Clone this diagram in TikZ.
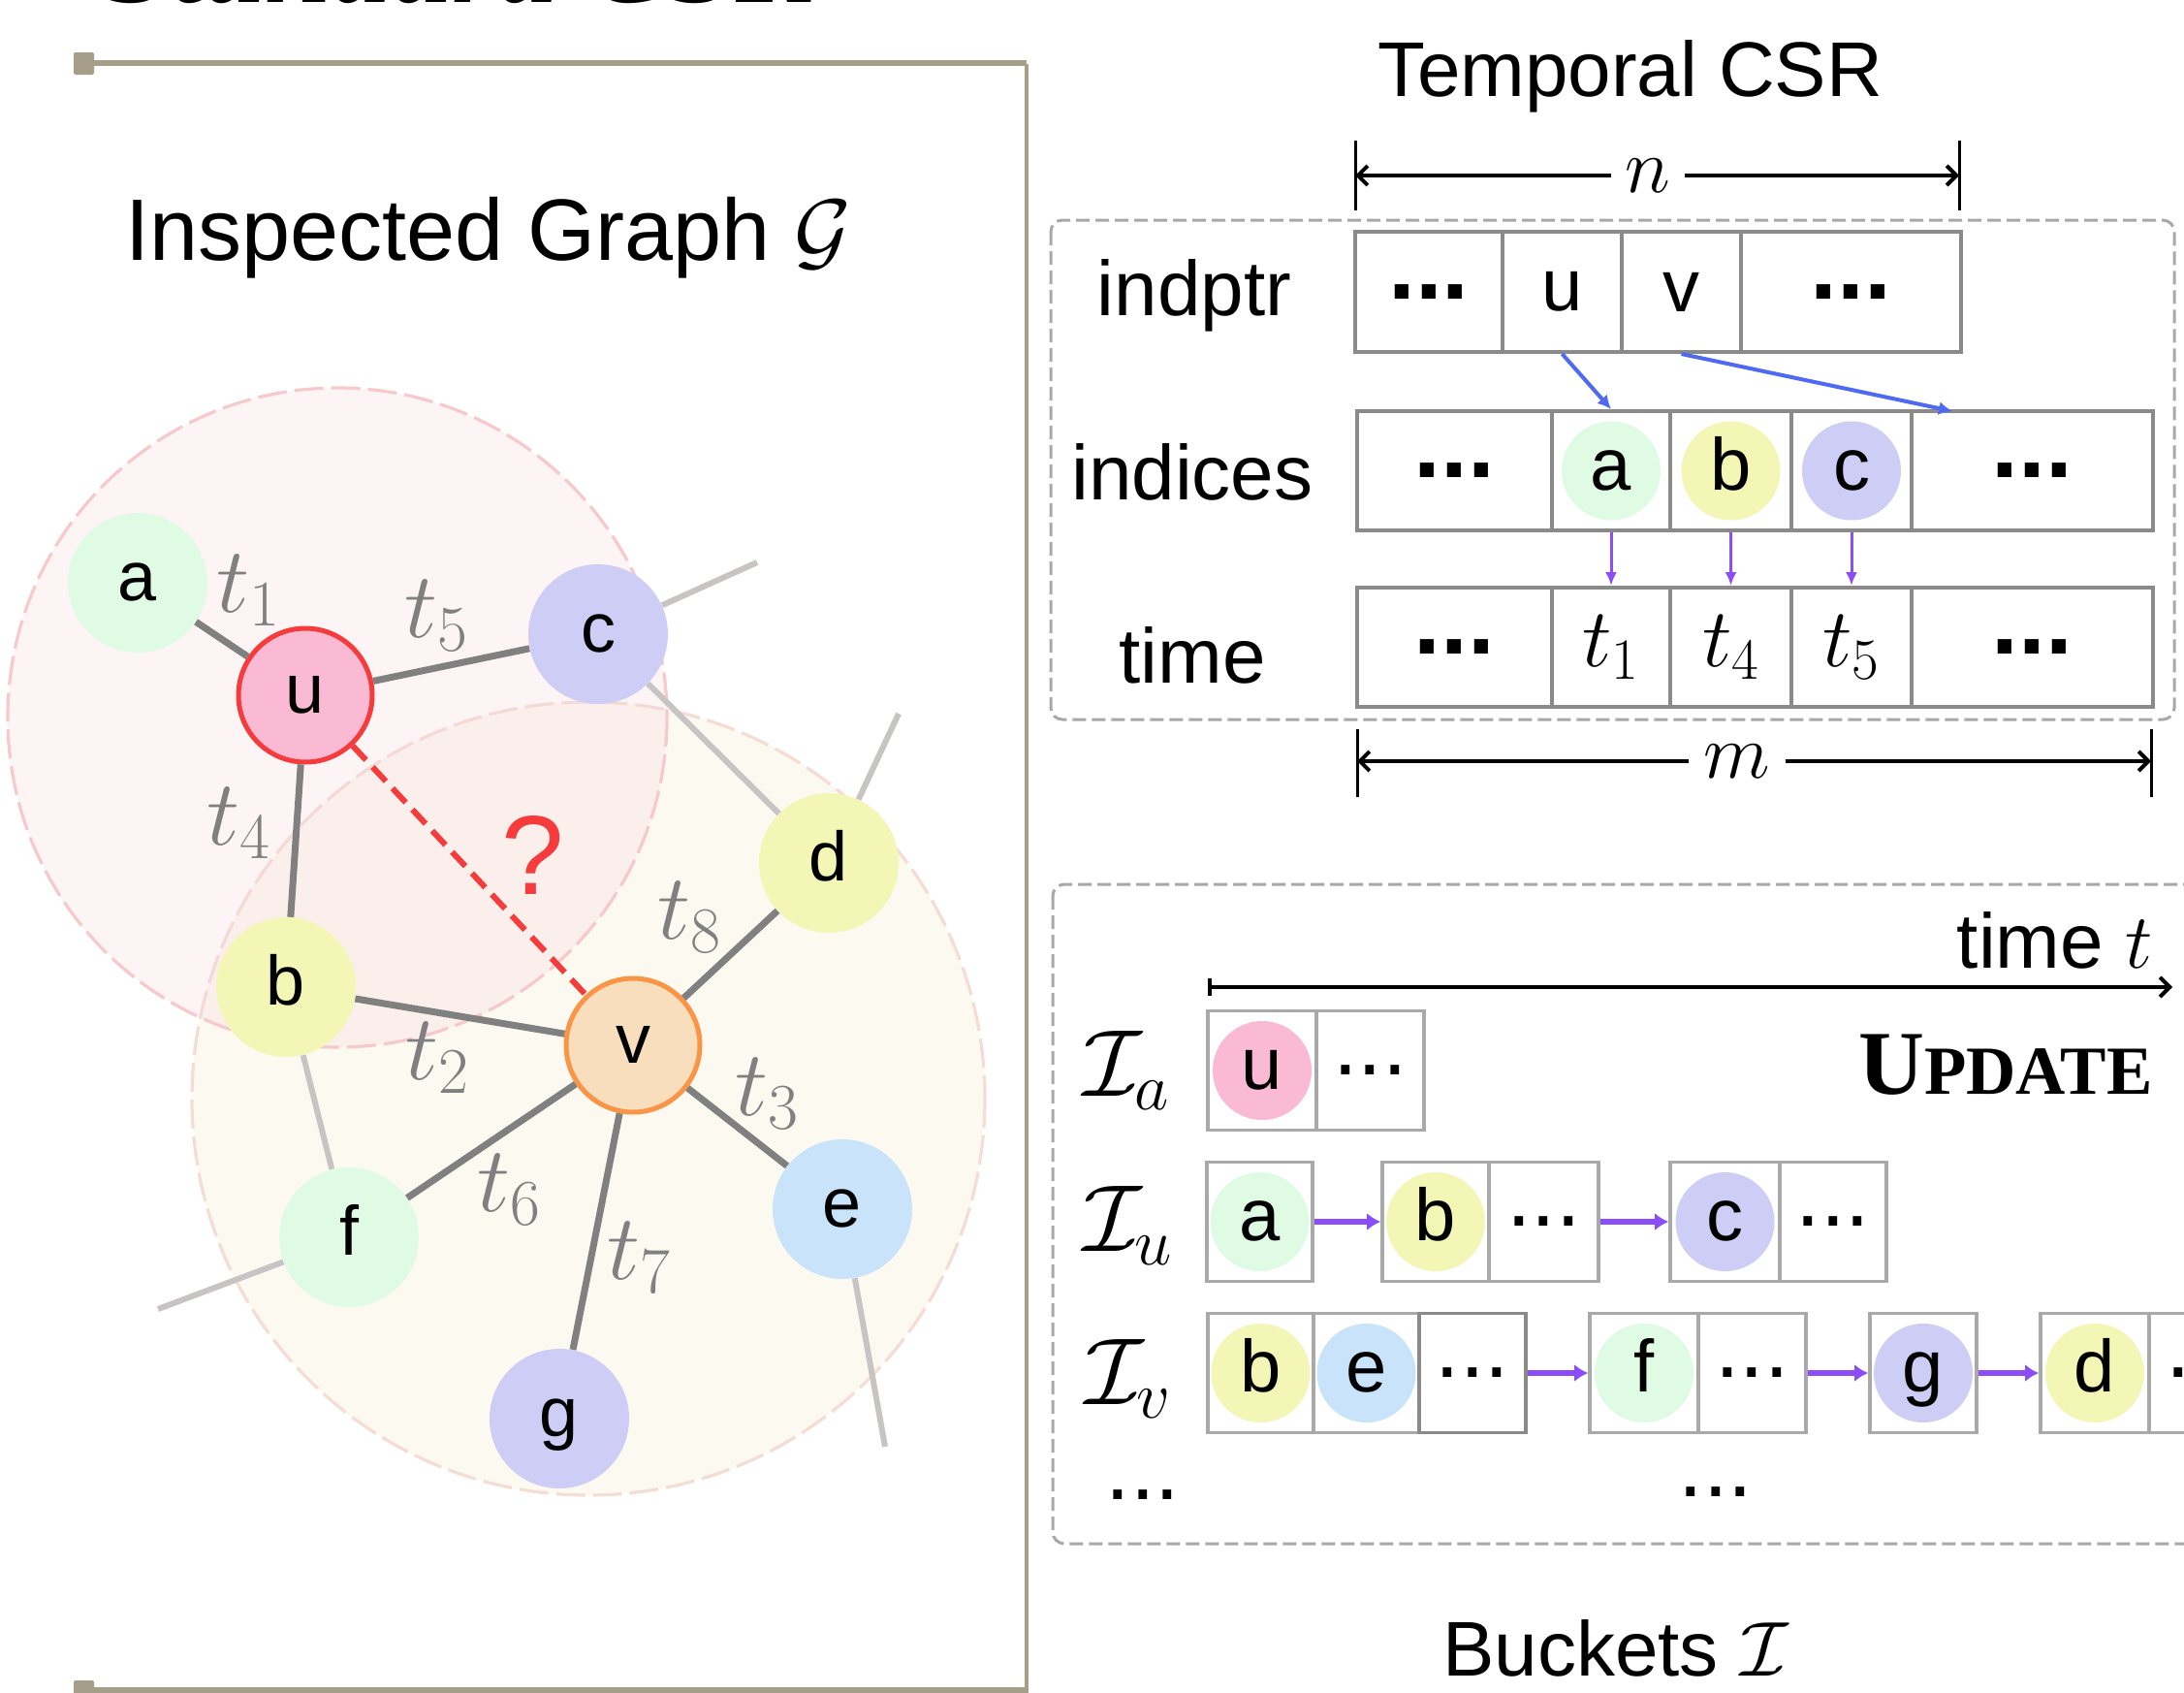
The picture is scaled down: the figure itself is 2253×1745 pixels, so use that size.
\RequirePackage{fix-cm}
\documentclass[tikz,border=0pt]{standalone}
\usepackage[no-math]{fontspec}
\newfontfamily\hv{Liberation Sans}
\newfontfamily\tms{Liberation Serif}
\usetikzlibrary{arrows.meta,calc}
\definecolor{cgreen}{HTML}{DFFBE3}
\definecolor{cpink}{HTML}{FBBAD3}
\definecolor{clav}{HTML}{CDCDF5}
\definecolor{cyel}{HTML}{F3F6B4}
\definecolor{cpeach}{HTML}{F8DEBD}
\definecolor{cblue}{HTML}{C9E3FB}
\definecolor{cred}{HTML}{F53B3B}
\definecolor{corange}{HTML}{FA9447}
\definecolor{egray}{HTML}{808080}
\definecolor{lgray}{HTML}{C9C4C4}
\definecolor{framec}{HTML}{A59E89}
\definecolor{boxg}{HTML}{8A8A8A}
\definecolor{bucg}{HTML}{A9A9A9}
\definecolor{dashg}{HTML}{A8A8A8}
\definecolor{arblue}{HTML}{4E6AF2}
\definecolor{arpurp}{HTML}{8B4DF7}
\definecolor{pinkbig}{HTML}{F8CDDA}
\definecolor{pinkbd}{HTML}{F7C9CC}
\definecolor{beigebig}{HTML}{FCF9F1}
\definecolor{beigebd}{HTML}{F3DDD5}
\tikzset{
  gnode/.style={circle, minimum size=72pt, inner sep=0pt, text height=18.7pt, text depth=0pt, font=\hv\fontsize{36}{36}\selectfont},
  snode/.style={circle, minimum size=51pt, inner sep=0pt, text height=19.5pt, text depth=0pt, font=\hv\fontsize{38}{38}\selectfont},
  gedge/.style={draw=egray, line width=3.5pt},
  ledge/.style={draw=lgray, line width=3pt},
  elab/.style={text=egray, inner sep=0pt, font=\fontsize{48}{48}\selectfont},
  csrcell/.style={draw=boxg, line width=2pt, minimum height=62pt, inner sep=0pt, font=\hv\fontsize{38}{38}\selectfont},
  tcell/.style={csrcell, minimum height=61.5pt, font=\fontsize{43}{43}\selectfont},
  bcell/.style={draw=bucg, line width=1.8pt, minimum height=61.5pt, inner sep=0pt},
  bdots/.style={font=\hv\bfseries\fontsize{50}{50}\selectfont},
  sdots/.style={font=\hv\fontsize{46}{46}\selectfont, inner sep=0pt},
  rowlab/.style={anchor=base, font=\hv\fontsize{40}{40}\selectfont},
  dimline/.style={line width=2pt, -{Straight Barb[length=5pt,width=10pt]}},
  tick/.style={line width=1.5pt},
  barrow/.style={draw=arblue, line width=2pt, -{Latex[length=7pt,width=7pt]}},
  parrow/.style={draw=arpurp, line width=1.5pt, -{Latex[length=7pt,width=6pt]}},
  pbar/.style={draw=arpurp, line width=3pt, -{Latex[length=7pt,width=9pt]}},
  dashbox/.style={draw=dashg, line width=1.5pt, dash pattern=on 7pt off 3pt, rounded corners=6pt},
  blab/.style={anchor=base west, font=\fontsize{49}{49}\selectfont}
}
\begin{document}
\begin{tikzpicture}[x=0.5pt,y=-0.5pt]
\useasboundingbox (0,0) rectangle (2253,1745);
\fill[white] (0,0) rectangle (2253,1745);

% ---------- cut-off heading and frame ----------
\node[anchor=base west, inner sep=0pt, font=\tms\bfseries\itshape\fontsize{62}{62}\selectfont] (toptitle) at (108,3) {Standard CSR};
\draw[framec, line width=3pt] (86,65) -- (1059,65);
\fill[framec, rounded corners=1pt] (76,54) rectangle (97,77);
\draw[framec, line width=2pt] (1059,66) -- (1059,1750);
\draw[framec, line width=3pt] (86,1743) -- (1059,1743);
\fill[framec, rounded corners=1pt] (76,1733) rectangle (97,1757);

% ---------- left: inspected graph ----------
\node[anchor=base west, inner sep=0pt, font=\hv\fontsize{45}{45}\selectfont] (gtitle) at (129,268) {Inspected Graph $\mathcal{G}$};

\fill[beigebig] (607,1133) circle[radius=409];
\draw[beigebd, line width=1.6pt, dash pattern=on 15pt off 4pt] (607,1133) circle[radius=409];
\fill[pinkbig, fill opacity=0.22] (348,740) circle[radius=340];
\draw[pinkbd, line width=1.6pt, dash pattern=on 15pt off 4pt] (348,740) circle[radius=340];

\node[gnode, fill=cgreen] (a) at (142,601) {a};
\node[gnode, fill=cpink, draw=cred, line width=2.5pt, minimum size=69pt] (u) at (315,717) {u};
\node[gnode, fill=clav] (c) at (617,654) {c};
\node[gnode, fill=cyel] (d) at (855,890) {d};
\node[gnode, fill=cyel] (b) at (295,1018) {b};
\node[gnode, fill=cpeach, draw=corange, line width=2.5pt, minimum size=69pt] (v) at (653,1078) {v};
\node[gnode, fill=cgreen] (f) at (360,1276) {f};
\node[gnode, fill=cblue] (e) at (869,1247) {e};
\node[gnode, fill=clav] (g) at (577,1463) {g};

\coordinate (cstub) at (781,580);
\coordinate (dstub) at (927,736);
\coordinate (fstub) at (163,1350);
\coordinate (estub) at (913,1492);
\draw[ledge] (c) -- (cstub);
\draw[ledge] (d) -- (dstub);
\draw[ledge] (f) -- (fstub);
\draw[ledge] (e) -- (estub);
\draw[ledge] (c) -- (d);
\draw[ledge] (b) -- (f);

\draw[gedge] (a) -- (u);
\draw[gedge] (u) -- (c);
\draw[gedge] (u) -- (b);
\draw[gedge] (b) -- (v);
\draw[gedge] (v) -- (d);
\draw[gedge] (v) -- (f);
\draw[gedge] (v) -- (g);
\draw[gedge] (v) -- (e);
\draw[draw=cred, line width=3pt, dash pattern=on 10pt off 5pt] (u) -- (v);

\node[elab] (l1) at (256,609) {$t_1$};
\node[elab] (l5) at (450,635) {$t_5$};
\node[elab] (l4) at (246,849) {$t_4$};
\node[elab] (l8) at (711,946) {$t_8$};
\node[elab] (l2) at (451,1091) {$t_2$};
\node[elab] (l3) at (791,1128) {$t_3$};
\node[elab] (l6) at (525,1227) {$t_6$};
\node[elab] (l7) at (659,1297) {$t_7$};
\node[text=cred, inner sep=0pt, font=\hv\fontsize{58}{58}\selectfont] (q) at (550,882) {?};

% ---------- right: temporal CSR ----------
\node[anchor=base, font=\hv\fontsize{40}{40}\selectfont] (csrt) at (1682,99) {Temporal CSR};

\coordinate (nL) at (1398,181); \coordinate (nR) at (2021,181);
\draw[tick] (1398,145) -- (1398,217);
\draw[tick] (2021,145) -- (2021,217);
\node[inner xsep=7pt, inner ysep=0pt, font=\fontsize{40}{40}\selectfont] (nlab) at (1700,181) {$n$};
\draw[dimline] (nlab.west) -- (nL);
\draw[dimline] (nlab.east) -- (nR);

\draw[dashbox] (1084,227) rectangle (2243,742);

\node[rowlab] (lindptr) at (1232,325) {indptr};
\node[rowlab] (lindices) at (1230,515) {indices};
\node[rowlab] (ltime) at (1230,704) {time};

\node[csrcell, minimum width=76pt, bdots] (p1) at (1474,301) {...};
\node[csrcell, minimum width=61.5pt] (p2) at (1611.5,301) {u};
\node[csrcell, minimum width=61.5pt] (p3) at (1734.5,301) {v};
\node[csrcell, minimum width=113.5pt, bdots] (p4) at (1909.5,301) {...};

\node[csrcell, minimum width=100.5pt, minimum height=61.5pt, bdots] (i1) at (1500.5,485.5) {...};
\node[csrcell, minimum width=61pt, minimum height=61.5pt] (i2) at (1662,485.5) {};
\node[csrcell, minimum width=62.5pt, minimum height=61.5pt] (i3) at (1785.5,485.5) {};
\node[csrcell, minimum width=62pt, minimum height=61.5pt] (i4) at (1910,485.5) {};
\node[csrcell, minimum width=124.5pt, minimum height=61.5pt, bdots] (i5) at (2096.5,485.5) {...};
\node[snode, fill=cgreen] (ia) at (i2) {a};
\node[snode, fill=cyel] (ib) at (i3) {b};
\node[snode, fill=clav] (ic) at (i4) {c};

\node[csrcell, minimum width=100.5pt, minimum height=61.5pt, bdots] (m1) at (1500.5,667.5) {...};
\node[tcell, minimum width=61pt] (m2) at (1662,667.5) {$t_1$};
\node[tcell, minimum width=62.5pt] (m3) at (1785.5,667.5) {$t_4$};
\node[tcell, minimum width=62pt] (m4) at (1910,667.5) {$t_5$};
\node[csrcell, minimum width=124.5pt, minimum height=61.5pt, bdots] (m5) at (2096.5,667.5) {...};

\coordinate (vend) at (2014,424);
\draw[barrow] (p2.south) -- (i2.north);
\draw[barrow] (p3.south) -- (vend);
\draw[parrow] (i2.south) -- (m2.north);
\draw[parrow] (i3.south) -- (m3.north);
\draw[parrow] (i4.south) -- (m4.north);

\coordinate (mL) at (1400,785); \coordinate (mR) at (2219,785);
\draw[tick] (1400,752) -- (1400,822);
\draw[tick] (2219,752) -- (2219,822);
\node[inner xsep=7.5pt, inner ysep=0pt, font=\fontsize{40}{40}\selectfont] (mlab) at (1792,785) {$m$};
\draw[dimline] (mlab.west) -- (mL);
\draw[dimline] (mlab.east) -- (mR);

% ---------- right: buckets ----------
\draw[dashbox] (1086,912) rectangle (2290,1592);
\node[anchor=base east, font=\hv\fontsize{40}{40}\selectfont, inner sep=0pt] (timet) at (2221,998) {time $t$};
\coordinate (tA) at (1246,1018); \coordinate (tB) at (2241,1018);
\draw[line width=2pt, {Bar[width=9pt]}-{Straight Barb[length=5pt,width=10pt]}] (tA) -- (tB);
\node[anchor=base east, inner sep=0pt, font=\tms\bfseries] (upd) at (2221,1128) {\fontsize{47}{47}\selectfont U\fontsize{35.5}{35.5}\selectfont PDATE};

\node[blab] (lIa) at (1110,1130) {$\mathcal{I}_a$};
\node[blab] (lIu) at (1110,1290) {$\mathcal{I}_u$};
\node[blab] (lIv) at (1112,1448) {$\mathcal{I}_v$};

\node[bcell, minimum width=56pt] (A1) at (1302,1104) {};
\node[bcell, minimum width=55.5pt] (A2) at (1413.5,1104) {};
\node[snode, fill=cpink] (Au) at (A1) {u};
\node[sdots] (Ad) at (A2) {...};

\node[bcell, minimum width=54.5pt] (U1) at (1299.5,1260) {};
\node[bcell, minimum width=55pt] (U2) at (1481,1260) {};
\node[bcell, minimum width=56.5pt] (U3) at (1592.5,1260) {};
\node[bcell, minimum width=56.5pt] (U4) at (1779.5,1260) {};
\node[bcell, minimum width=55pt] (U5) at (1891,1260) {};
\node[snode, fill=cgreen] (Ua) at (U1) {a};
\node[snode, fill=cyel] (Ub) at (U2) {b};
\node[sdots] (Ud1) at (U3) {...};
\node[snode, fill=clav] (Uc) at (U4) {c};
\node[sdots] (Ud2) at (U5) {...};
\draw[pbar] (U1.east) -- (U2.west);
\draw[pbar] (U3.east) -- (U4.west);

\node[bcell, minimum width=54.5pt] (V1) at (1300.5,1416) {};
\node[bcell, minimum width=54.5pt] (V2) at (1409.5,1416) {};
\node[bcell, minimum width=55pt, draw=boxg] (V3) at (1519,1416) {};
\node[bcell, minimum width=56pt] (V4) at (1696,1416) {};
\node[bcell, minimum width=55.5pt] (V5) at (1807.5,1416) {};
\node[bcell, minimum width=55pt] (V6) at (1984,1416) {};
\node[bcell, minimum width=56pt] (V7) at (2161,1416) {};
\node[bcell, minimum width=56pt] (V8) at (2273,1416) {};
\node[snode, fill=cyel] (Vb) at (V1) {b};
\node[snode, fill=cblue] (Ve) at (V2) {e};
\node[sdots] (Vd1) at (V3) {...};
\node[snode, fill=cgreen] (Vf) at (V4) {f};
\node[sdots] (Vd2) at (V5) {...};
\node[snode, fill=clav] (Vg) at (V6) {g};
\node[snode, fill=cyel] (Vdd) at (V7) {d};
\node[sdots] (Vd3) at (V8) {...};
\draw[pbar] (V3.east) -- (V4.west);
\draw[pbar] (V5.east) -- (V6.west);
\draw[pbar] (V6.east) -- (V7.west);

\node[sdots] (bd1) at (1179,1542) {...};
\node[sdots] (bd2) at (1770,1539) {...};

\node[anchor=base west, font=\hv\fontsize{40}{40}\selectfont, inner sep=0pt] (bt) at (1488,1728) {Buckets $\mathcal{I}$};
\end{tikzpicture}
\end{document}
